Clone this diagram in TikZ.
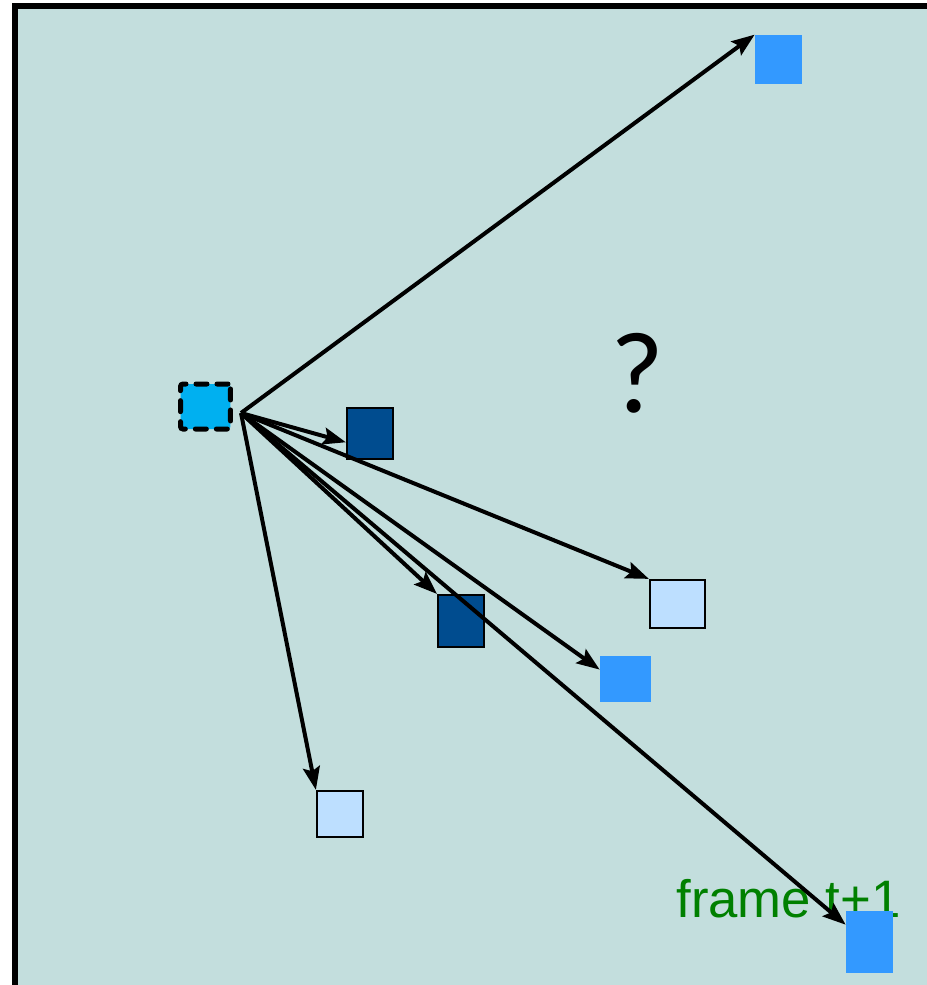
\documentclass[tikz,border=0pt]{standalone}
\usepackage{fontspec}
\setmainfont{Liberation Sans}
\newfontfamily\qfont{Carlito}
\usetikzlibrary{arrows.meta}
\definecolor{bgc}{RGB}{195,222,221}
\definecolor{darkb}{RGB}{0,76,143}
\definecolor{midb}{RGB}{51,153,255}
\definecolor{lightb}{RGB}{189,223,255}
\definecolor{cyanb}{RGB}{0,176,240}
\definecolor{greent}{RGB}{0,128,0}
\tikzset{
  sq/.style={rectangle, inner sep=0pt, minimum width=0.92cm, minimum height=1.0cm},
  darksq/.style={sq, fill=darkb, draw=black, line width=0.045cm},
  lightsq/.style={sq, fill=lightb, draw=black, line width=0.045cm},
  midsq/.style={sq, fill=midb},
  arr/.style={line width=0.08cm, -{Stealth[length=0.46cm, width=0.34cm, inset=0.08cm]}},
}
\begin{document}
\begin{tikzpicture}[x=0.02cm, y=-0.02cm]
\useasboundingbox (0,0) rectangle (927,985);
\clip (0,0) rectangle (927,985);
\draw[fill=bgc, line width=0.12cm] (15,5.5) rectangle (960,1020);
% texts
\node[font=\qfont\fontsize{66}{66}\selectfont, anchor=base, inner sep=0pt] (q) at (637,412) {?};
\node[font=\fontsize{30}{30}\selectfont, text=greent, anchor=base west, inner sep=0pt] (lbl) at (676,917) {frame t+1};
% source square
\node[sq, minimum width=1.0cm, minimum height=0.9cm, fill=cyanb, draw=black, line width=0.1cm, dash pattern=on 0.22cm off 0.2cm, line cap=round, rounded corners=0.05cm] (src) at (205.5,406.5) {};
\coordinate (o) at (241,413);
% target squares
\node[midsq, minimum width=0.94cm, minimum height=0.98cm] (tr) at (778.5,59.5) {};
\node[darksq, minimum width=0.92cm, minimum height=1.02cm] (d1) at (370,433.5) {};
\node[lightsq, minimum width=1.1cm, minimum height=0.96cm] (l1) at (677.5,604) {};
\node[darksq, minimum width=0.92cm, minimum height=1.04cm] (d2) at (461,621) {};
\node[midsq, minimum width=1.02cm, minimum height=0.92cm] (m2) at (625.5,679) {};
\node[lightsq, minimum width=0.92cm, minimum height=0.92cm] (l2) at (340,814) {};
\node[midsq, minimum width=0.94cm, minimum height=1.24cm] (m3) at (869.5,942) {};
% arrows
\draw[arr] (o) -- (tr.north west);
\draw[arr] (o) -- (d1.200);
\draw[arr] (o) -- (l1.north west);
\draw[arr] (o) -- (d2.north west);
\draw[arr] (o) -- (m2.160);
\draw[arr] (o) -- (l2.north west);
\draw[arr] (o) -- (m3.144);
\end{tikzpicture}
\end{document}
